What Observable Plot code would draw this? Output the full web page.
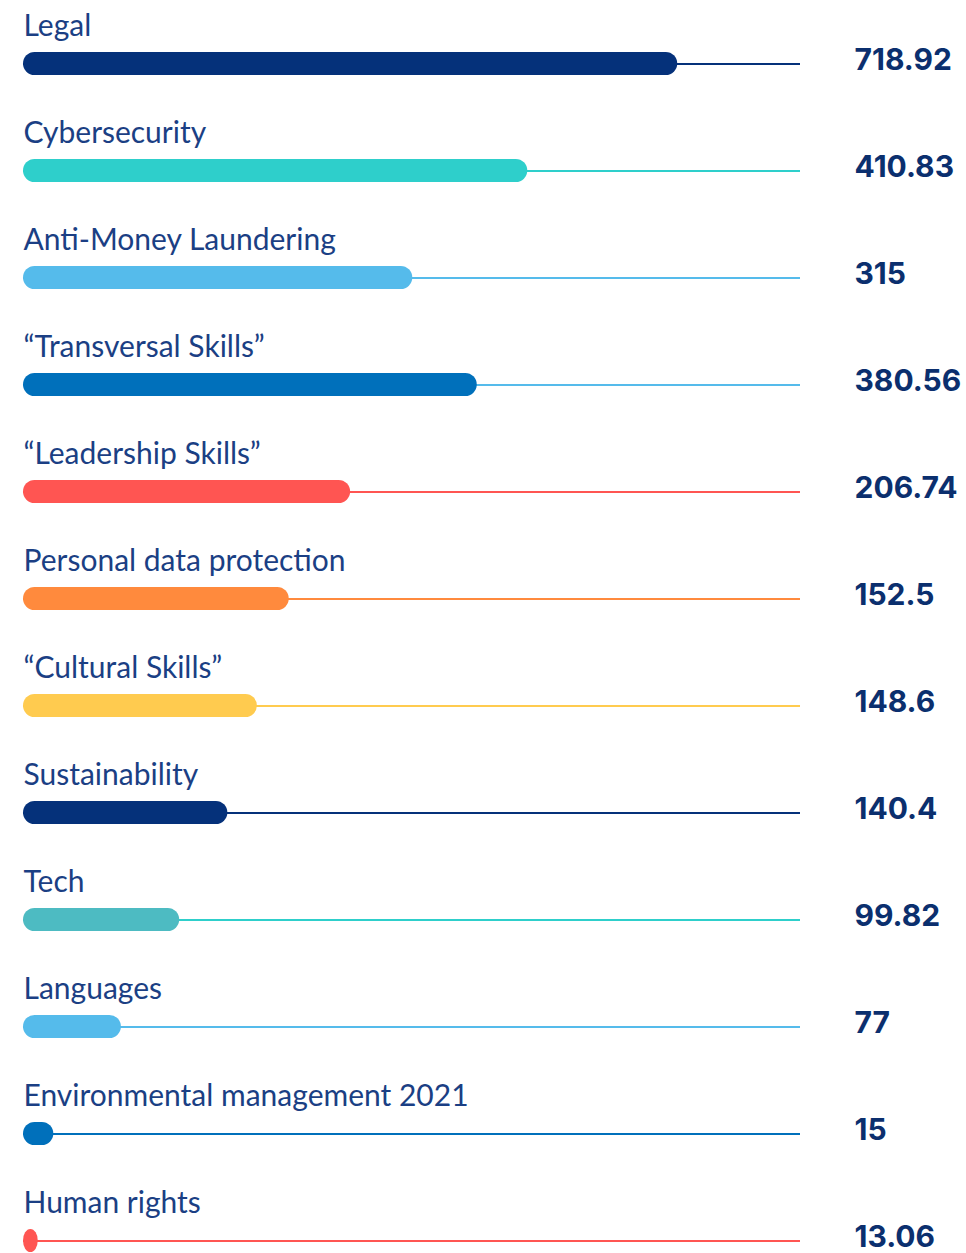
<!DOCTYPE html>
<html>
<head>
<meta charset="utf-8">
<script src="https://cdn.jsdelivr.net/npm/d3@7"></script>
<script src="https://cdn.jsdelivr.net/npm/@observablehq/plot@0.6"></script>
<style>
  html, body { margin: 0; padding: 0; background: #ffffff; }
  #chart svg { display: block; overflow: visible; }
</style>
</head>
<body>
<div id="chart"></div>
<script>
const categories = [
  "Legal",
  "Cybersecurity",
  "Anti-Money Laundering",
  "\u201cTransversal Skills\u201d",
  "\u201cLeadership Skills\u201d",
  "Personal data protection",
  "\u201cCultural Skills\u201d",
  "Sustainability",
  "Tech",
  "Languages",
  "Environmental management 2021",
  "Human rights"
];
const values = [718.92, 410.83, 315, 380.56, 206.74, 152.5, 148.6, 140.4, 99.82, 77, 15, 13.06];
// bar length as drawn, in percent of the track
const barShare = [84.2, 64.9, 50.1, 58.4, 42.1, 34.2, 30.1, 26.3, 20.1, 12.6, 3.9, 1.9];
const barColors = ["#05317a", "#2ecfcb", "#55bbeb", "#0070bb", "#ff5552", "#ff8a3d", "#ffcb4f", "#05317a", "#4dbbc2", "#55bbeb", "#0070bb", "#ff5552"];
const lineColors = ["#05317a", "#2ecfcb", "#55bbeb", "#55bbeb", "#ff5552", "#ff8a3d", "#ffcb4f", "#05317a", "#2ecfcb", "#55bbeb", "#0070bb", "#ff5552"];

const data = categories.map((c, i) => ({
  category: c,
  value: values[i],
  share: barShare[i],
  bar: barColors[i],
  line: lineColors[i]
}));

const chart = Plot.plot({
  width: 966,
  height: 1253,
  marginLeft: 23,
  marginRight: 166,
  marginTop: 0,
  marginBottom: 0,
  style: { background: "#ffffff", overflow: "visible" },
  x: { domain: [0, 100], axis: null },
  y: { domain: categories, range: [7.5, 1297.5], paddingInner: 0.785, paddingOuter: 0.3925, axis: null },
  marks: [
    Plot.ruleY(data, { y: "category", stroke: "line", strokeWidth: 2 }),
    Plot.barX(data, { x: "share", y: "category", fill: "bar", rx: 11.5 }),
    Plot.text(data, {
      x: 0, y: "category", text: "category", dy: -38, textAnchor: "start",
      fontSize: 30, fontWeight: 400, fontFamily: "Lato, sans-serif", fill: "#1b3f84"
    }),
    Plot.text(data, {
      y: "category", text: d => String(d.value), frameAnchor: "right", dx: 54, dy: -4, textAnchor: "start",
      fontSize: 30, fontWeight: 700, fontFamily: "Inter, sans-serif", fill: "#0b2f6e"
    })
  ]
});
document.getElementById("chart").appendChild(chart);
</script>
</body>
</html>
